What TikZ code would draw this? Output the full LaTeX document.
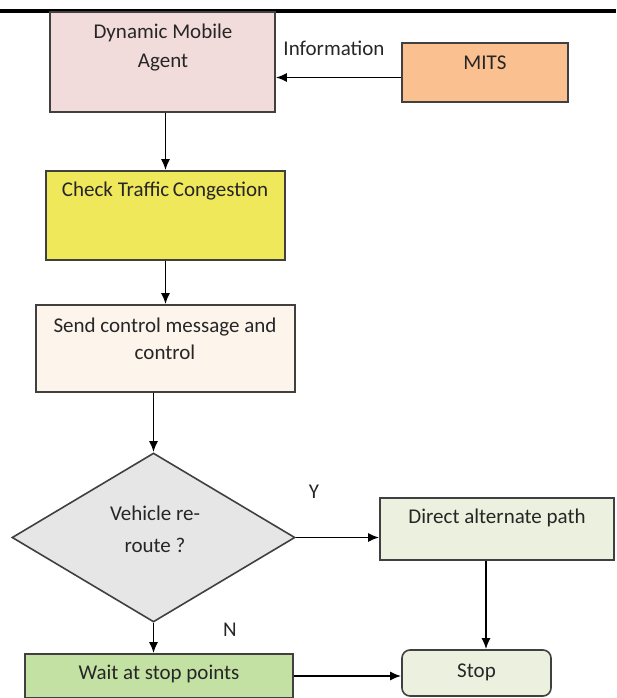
\documentclass[tikz,border=0pt]{standalone}
\usepackage{fontspec}
\setmainfont{Carlito}
\usepackage{tikz}
\usetikzlibrary{arrows,arrows.meta,shapes.geometric,positioning}
\definecolor{agentpink}{HTML}{F2DCDB}
\definecolor{mitsorange}{HTML}{FAC090}
\definecolor{checkyellow}{HTML}{EFE85B}
\definecolor{sendpeach}{HTML}{FDF4EC}
\definecolor{decgray}{HTML}{E6E6E6}
\definecolor{paleGreen}{HTML}{EBF1DE}
\definecolor{waitgreen}{HTML}{C4E1A4}
\definecolor{boxline}{HTML}{404040}
\definecolor{textgray}{HTML}{262626}

\begin{document}
\begin{tikzpicture}[x=1pt, y=-1pt, >={Latex[length=11pt,width=9pt]},
	box/.style = {draw=boxline, line width=1.6pt, inner sep=0pt},
	txt/.style = {text=textgray, font=\fontsize{21}{29}\selectfont, align=center, inner sep=0pt},
	flow/.style = {->, line width=1.8pt}]
	\useasboundingbox (0,0) rectangle (616,698);
	\draw[line width=3.5pt] (0,11) -- (616,11);
	% boxes
	\node[box, fill=agentpink, minimum width=225pt, minimum height=100pt] (dma) at (162.5,62) {};
	\node[box, fill=mitsorange, minimum width=166pt, minimum height=59pt] (mits) at (485,72.5) {};
	\node[box, fill=checkyellow, minimum width=239pt, minimum height=89pt] (chk) at (165.5,215.5) {};
	\node[box, fill=sendpeach, minimum width=259pt, minimum height=87pt] (snd) at (165.5,348.5) {};
	\node[box, diamond, fill=decgray, minimum width=283pt, minimum height=169pt] (dec) at (153.5,537.5) {};
	\node[box, fill=paleGreen, minimum width=234pt, minimum height=62pt] (dir) at (497,529) {};
	\node[box, fill=paleGreen, rounded corners=8pt, minimum width=149pt, minimum height=46pt] (stop) at (476.5,673) {};
	\node[box, fill=waitgreen, minimum width=268pt, minimum height=44pt] (wait) at (159,676) {};
	% texts
	\node[txt] (dmatxt) at (163,47.5) {Dynamic Mobile\\Agent};
	\node[txt] (mitstxt) at (485,63) {MITS};
	\node[txt] (info) at (334,48) {Information};
	\node[txt] (chktxt) at (165,191) {Check Traffic\,Congestion};
	\node[txt, font=\fontsize{21}{27}\selectfont] (sndtxt) at (165,338.5) {Send control message and\\control};
	\node[txt, font=\fontsize{21}{32}\selectfont] (dectxt) at (155,529) {Vehicle re-\\route ?};
	\node[txt] (yes) at (314,492) {Y};
	\node[txt] (dirtxt) at (497,518) {Direct alternate path};
	\node[txt] (no) at (230,630) {N};
	\node[txt] (stoptxt) at (476.5,672) {Stop};
	\node[txt] (waittxt) at (159,674) {Wait at stop points};
	% arrows
	\draw[flow] ([yshift=-5pt]mits.west) -- ([yshift=-5pt]mits.west -| dma.east);
	\draw[flow] (chk.north |- dma.south) -- (chk.north);
	\draw[flow] (chk.south) -- (snd.north);
	\draw[flow] (dec.north |- snd.south) -- (dec.north);
	\draw[flow] (dec.east) -- (dec.east -| dir.west);
	\draw[flow] ([xshift=-11pt]dir.south) -- ([xshift=-11pt]dir.south |- stop.north);
	\draw[flow] (dec.south) -- (dec.south |- wait.north);
	\draw[flow] (wait.east) -- (wait.east -| stop.west);
\end{tikzpicture}
\end{document}
